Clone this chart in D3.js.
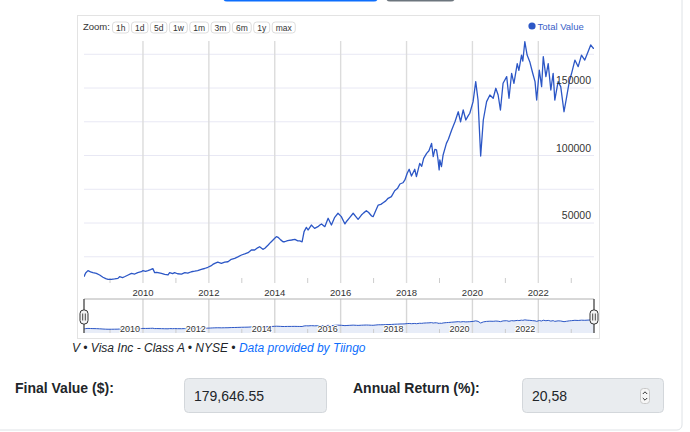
<!DOCTYPE html>
<html><head><meta charset="utf-8">
<script src="https://cdn.jsdelivr.net/npm/d3@7"></script>
<style>
html,body{margin:0;padding:0;background:#fff;}
svg{display:block;font-family:"Liberation Sans",Arial,Helvetica,sans-serif;}
</style></head><body>
<svg id="c" width="690" height="432"></svg>
<script>
// ---------- DATA ----------
const dates = [2008.21,2008.26,2008.33,2008.41,2008.48,2008.585,2008.685,2008.785,2008.87,2008.94,
2009.04,2009.14,2009.24,2009.29,2009.38,2009.44,2009.535,2009.65,2009.75,2009.84,2009.95,
2010.00,2010.08,2010.15,2010.23,2010.30,2010.355,2010.42,2010.56,2010.66,2010.76,2010.81,2010.90,2010.96,
2011.05,2011.17,2011.27,2011.36,2011.47,2011.57,2011.66,2011.77,2011.87,2011.97,
2012.06,2012.12,2012.18,2012.27,2012.38,2012.48,2012.58,2012.68,2012.785,2012.88,2012.99,
2013.09,2013.19,2013.29,2013.39,2013.48,2013.54,2013.64,2013.70,2013.80,2013.88,
2014.00,2014.05,2014.10,2014.18,2014.25,2014.30,2014.39,2014.51,2014.61,2014.70,2014.76,2014.83,2014.89,2014.96,
2015.01,2015.11,2015.21,2015.31,2015.37,2015.42,2015.52,2015.62,2015.72,2015.82,2015.92,
2016.02,2016.13,2016.19,2016.28,2016.38,2016.48,2016.53,2016.63,2016.70,2016.78,2016.85,2016.94,2016.985,
2017.07,2017.14,2017.22,2017.29,2017.37,2017.44,2017.54,2017.64,2017.73,2017.80,2017.89,2017.95,
2018.02,2018.08,2018.15,2018.25,2018.30,2018.40,2018.46,2018.52,2018.61,2018.68,2018.76,2018.81,2018.86,2018.91,2018.95,2018.99,
2019.01,2019.06,2019.11,2019.21,2019.27,2019.37,2019.47,2019.57,2019.64,2019.72,2019.80,2019.86,2019.92,
2020.02,2020.10,2020.17,2020.25,2020.33,2020.43,2020.53,2020.63,2020.71,2020.78,2020.85,2020.93,
2021.04,2021.11,2021.19,2021.26,2021.36,2021.41,2021.49,2021.53,2021.59,2021.66,2021.74,2021.83,2021.90,2021.95,
2022.03,2022.10,2022.15,2022.23,2022.30,2022.38,2022.45,2022.50,2022.60,2022.68,2022.78,2022.86,2022.94,
2023.01,2023.11,2023.21,2023.31,2023.41,2023.51,2023.59,2023.67,2023.69];
const values = [10200,13000,14700,13800,13200,12700,11500,9800,8800,8300,
8300,8600,9000,10200,9600,10200,11300,12700,12200,13300,13900,
14700,14200,14700,15400,16200,13200,13500,12700,12000,11500,13200,12500,13200,
12400,12200,13200,12800,13900,14300,14800,15700,16300,17200,
18200,19300,20100,21000,20100,21000,21300,23100,23800,24900,26300,
27100,28000,30000,30000,31600,32400,30500,31300,33700,35800,
38700,39900,39400,37500,36100,36100,37000,37400,37900,36800,36700,36100,43600,46800,
44800,48500,46000,47300,48500,49300,47300,53500,48500,54200,57200,
54700,49300,51500,54200,57200,54200,52700,55900,57500,59100,57800,55200,54700,
59500,63300,63800,65000,66400,68300,69500,73900,75800,78900,79800,81900,
86800,89800,84800,89800,84300,94200,92000,97900,101600,103500,109000,99100,104500,104100,98000,89300,
96700,91700,100400,109000,112000,118900,125000,132400,125000,133700,126300,129000,131300,
139900,154700,141100,99600,126300,139900,144800,142400,149800,144800,133700,153500,
158400,142400,160900,153500,168100,163000,174400,170000,184300,174400,169500,160900,154700,141100,
163300,151000,173200,158400,168100,148500,160900,141100,154700,151000,132400,143500,154700,
160900,170700,165800,174400,170700,176900,181900,179400,179650];
const yGridTicks = [25000,50000,75000,100000,125000,150000,175000];
const yLabelTicks = [50000,100000,150000];
const xLabelYears = [2010,2012,2014,2016,2018,2020,2022];
const xMinorYears = [2009,2011,2013,2015,2017,2019,2021,2023];
const zoomButtons = ["1h","1d","5d","1w","1m","3m","6m","1y","max"];
const seriesName = "Total Value";
const captionPlain = "V \u2022 Visa Inc - Class A \u2022 NYSE \u2022 ";
const captionLink = "Data provided by Tiingo";
const fieldLabels = ["Final Value ($):","Annual Return (%):"];
const fieldValues = ["179,646.55","20,58"];

// ---------- LAYOUT ----------
const svg = d3.select("#c");
const P = {l:84, r:594, t:41, b:283};
const NAV = {t:299, b:333};
const lineColor = "#2c57c6";

// page card and top buttons
svg.append("rect").attr("x",-10).attr("y",-10).attr("width",692).attr("height",440)
  .attr("rx",5).attr("fill","#fff").attr("stroke","#dee2e6");
svg.append("rect").attr("x",223).attr("y",-10).attr("width",155).attr("height",11.5).attr("rx",4).attr("fill","#0d6efd");
svg.append("rect").attr("x",386).attr("y",-10).attr("width",69).attr("height",11.5).attr("rx",4).attr("fill","#6c757d");

// chart frame
svg.append("rect").attr("x",77.5).attr("y",15.5).attr("width",522).attr("height",323)
  .attr("fill","#fff").attr("stroke","#e3e3e3");

// scales
const x = d3.scaleLinear().domain(d3.extent(dates)).range([P.l, P.r]);
const y = d3.scaleLinear().domain([0,150000]).range([290.5, 88]);

const defs = svg.append("defs");
defs.append("clipPath").attr("id","pc").append("rect")
  .attr("x",P.l).attr("y",P.t).attr("width",P.r-P.l).attr("height",P.b-P.t);

// horizontal grid
svg.append("g").selectAll("line").data(yGridTicks).join("line")
  .attr("x1",P.l).attr("x2",P.r).attr("y1",d=>y(d)).attr("y2",d=>y(d))
  .attr("stroke","#e8e8f4").attr("stroke-width",1);
// vertical grid (even years)
svg.append("g").selectAll("line").data(xLabelYears).join("line")
  .attr("x1",d=>x(d)).attr("x2",d=>x(d)).attr("y1",P.t).attr("y2",P.b)
  .attr("stroke","#dcdcdc").attr("stroke-width",1.4);
// minor ticks (odd years)
svg.append("g").selectAll("line").data(xMinorYears.filter(d=>x(d)>P.l&&x(d)<P.r)).join("line")
  .attr("x1",d=>x(d)).attr("x2",d=>x(d)).attr("y1",P.b-5).attr("y2",P.b)
  .attr("stroke","#cccccc").attr("stroke-width",1);

// x labels
svg.append("g").selectAll("text").data(xLabelYears).join("text")
  .attr("x",d=>x(d)).attr("y",296).attr("text-anchor","middle")
  .attr("font-size",9.5).attr("fill","#333").text(d=>d);

// line
const pts = dates.map((d,i)=>[d,values[i]]);
svg.append("path").attr("clip-path","url(#pc)")
  .attr("d", d3.line().x(d=>x(d[0])).y(d=>y(d[1]))(pts))
  .attr("fill","none").attr("stroke",lineColor).attr("stroke-width",1.3).attr("stroke-linejoin","round");

// y labels
svg.append("g").selectAll("text").data(yLabelTicks).join("text")
  .attr("x",591).attr("y",d=>y(d)-4).attr("text-anchor","end")
  .attr("font-size",10.5).attr("fill","#333").text(d=>d);

// zoom bar
svg.append("text").attr("x",83).attr("y",30).attr("font-size",9.5).attr("fill","#333").text("Zoom:");
let bx = 112.5;
const bg = svg.append("g");
zoomButtons.forEach(b=>{
  const g = bg.append("g");
  const t = g.append("text").attr("y",30.5).attr("font-size",8.5).attr("fill","#333").text(b);
  const w = t.node().getComputedTextLength() + 7;
  g.insert("rect","text").attr("x",bx).attr("y",22).attr("width",w).attr("height",11).attr("rx",3)
    .attr("fill","#fff").attr("stroke","#dddddd");
  t.attr("x",bx+w/2).attr("text-anchor","middle");
  bx += w + 2.5;
});

// legend
svg.append("circle").attr("cx",532).attr("cy",26).attr("r",3.6).attr("fill",lineColor);
svg.append("text").attr("x",537.5).attr("y",29.5).attr("font-size",9.5).attr("fill","#3a5fc8").text(seriesName);

// ---------- NAVIGATOR ----------
const ny = d3.scalePow().exponent(0.5).domain([10000,180000]).range([329,320]);
defs.append("clipPath").attr("id","nc").append("rect")
  .attr("x",P.l).attr("y",NAV.t).attr("width",P.r-P.l).attr("height",NAV.b-NAV.t);
svg.append("path").attr("clip-path","url(#nc)")
  .attr("d", d3.area().x(d=>x(d[0])).y0(NAV.b).y1(d=>ny(d[1]))(pts))
  .attr("fill","#e8edf8");
svg.append("g").selectAll("line").data(xLabelYears).join("line")
  .attr("x1",d=>x(d)).attr("x2",d=>x(d)).attr("y1",NAV.t).attr("y2",NAV.b)
  .attr("stroke","#d6d6d6").attr("stroke-width",1.4);
svg.append("g").selectAll("line").data(xMinorYears.filter(d=>x(d)>P.l&&x(d)<P.r)).join("line")
  .attr("x1",d=>x(d)).attr("x2",d=>x(d)).attr("y1",NAV.b-4).attr("y2",NAV.b)
  .attr("stroke","#cccccc");
svg.append("path").attr("clip-path","url(#nc)")
  .attr("d", d3.line().x(d=>x(d[0])).y(d=>ny(d[1]))(pts))
  .attr("fill","none").attr("stroke",lineColor).attr("stroke-width",1);
svg.append("g").selectAll("text").data(xLabelYears).join("text")
  .attr("x",d=>x(d)-3).attr("y",332).attr("text-anchor","end")
  .attr("font-size",9).attr("fill","#333")
  .attr("stroke","#fff").attr("stroke-width",2).attr("paint-order","stroke").text(d=>d);
// outline
svg.append("line").attr("x1",P.l).attr("x2",P.r).attr("y1",NAV.t).attr("y2",NAV.t).attr("stroke","#b0b0b0");
[P.l,P.r].forEach(hx=>{
  svg.append("line").attr("x1",hx).attr("x2",hx).attr("y1",NAV.t).attr("y2",NAV.b).attr("stroke","#444").attr("stroke-width",1.3);
  svg.append("rect").attr("x",hx-4).attr("y",310).attr("width",8).attr("height",14).attr("rx",3.5)
    .attr("fill","#f4f4f4").attr("stroke","#333").attr("stroke-width",1);
  [-1.3,1.3].forEach(o=>svg.append("line").attr("x1",hx+o).attr("x2",hx+o).attr("y1",313.5).attr("y2",320.5).attr("stroke","#333").attr("stroke-width",0.9));
});

// caption
const cap = svg.append("text").attr("x",72).attr("y",352).attr("font-size",12).attr("font-style","italic");
cap.append("tspan").attr("fill","#212529").text(captionPlain);
cap.append("tspan").attr("fill","#0d6efd").text(captionLink);

// ---------- FORM ----------
const fields = [{lx:15, bx:184, bw:142},{lx:353, bx:522, bw:141}];
fields.forEach((f,i)=>{
  svg.append("text").attr("x",f.lx).attr("y",393).attr("font-size",14).attr("font-weight","bold")
    .attr("fill","#212529").text(fieldLabels[i]);
  svg.append("rect").attr("x",f.bx+0.5).attr("y",378.5).attr("width",f.bw).attr("height",34).attr("rx",4)
    .attr("fill","#e9ecef").attr("stroke","#d3d7db");
  svg.append("text").attr("x",f.bx+10).attr("y",401).attr("font-size",14).attr("fill","#212529").text(fieldValues[i]);
});
// spinner
const sp = svg.append("g");
sp.append("rect").attr("x",640.5).attr("y",388.5).attr("width",9).attr("height",15).attr("rx",3)
  .attr("fill","#f6f6f6").attr("stroke","#c8c8c8");
sp.append("path").attr("d","M642.8,394 L645,391.8 L647.2,394 M642.8,398 L645,400.2 L647.2,398")
  .attr("fill","none").attr("stroke","#333").attr("stroke-width",1);
</script>
</body></html>
